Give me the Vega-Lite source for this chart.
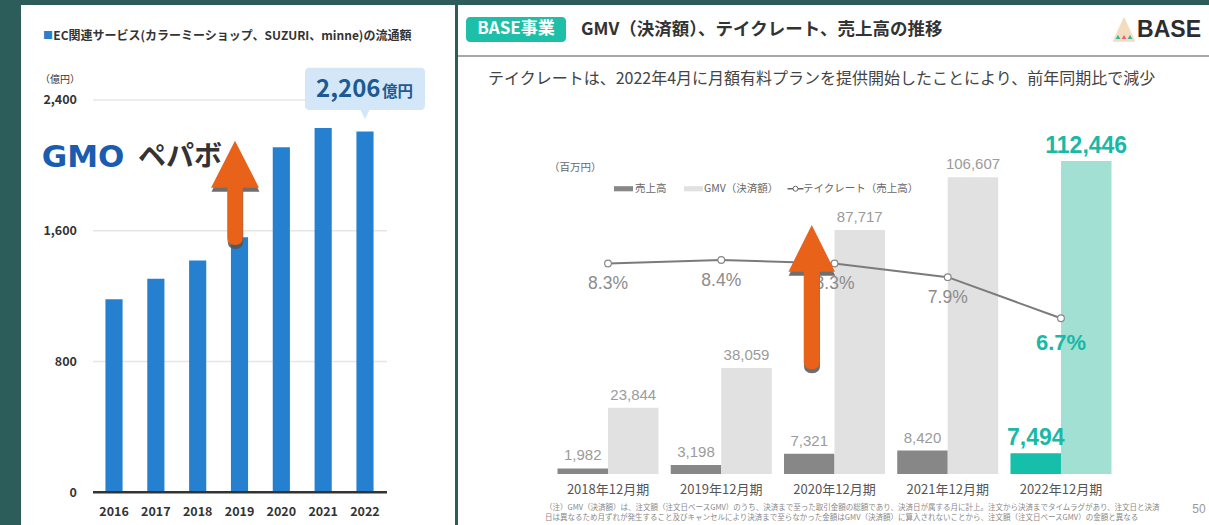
{
  "$schema": "https://vega.github.io/schema/vega-lite/v6.json",
  "background": "#2c5d5a",
  "padding": {"left": 21, "top": 5, "right": 0, "bottom": 0},
  "spacing": 2,
  "config": {"view": {"stroke": null}, "font": "Noto Sans CJK JP"},
  "datasets": {
    "pepabo": [
      {"year": "2016", "gmv": 1180},
      {"year": "2017", "gmv": 1306},
      {"year": "2018", "gmv": 1417},
      {"year": "2019", "gmv": 1560},
      {"year": "2020", "gmv": 2110},
      {"year": "2021", "gmv": 2228},
      {"year": "2022", "gmv": 2206}
    ],
    "base": [
      {"period": "2018年12月期", "series": "売上高", "value": 1982},
      {"period": "2018年12月期", "series": "GMV（決済額）", "value": 23844},
      {"period": "2019年12月期", "series": "売上高", "value": 3198},
      {"period": "2019年12月期", "series": "GMV（決済額）", "value": 38059},
      {"period": "2020年12月期", "series": "売上高", "value": 7321},
      {"period": "2020年12月期", "series": "GMV（決済額）", "value": 87717},
      {"period": "2021年12月期", "series": "売上高", "value": 8420},
      {"period": "2021年12月期", "series": "GMV（決済額）", "value": 106607},
      {"period": "2022年12月期", "series": "売上高", "value": 7494},
      {"period": "2022年12月期", "series": "GMV（決済額）", "value": 112446}
    ],
    "rate": [
      {"period": "2018年12月期", "rate": 0.083},
      {"period": "2019年12月期", "rate": 0.084},
      {"period": "2020年12月期", "rate": 0.083},
      {"period": "2021年12月期", "rate": 0.079},
      {"period": "2022年12月期", "rate": 0.067}
    ],
    "one": [{}],
    "grid": [{"v": 800}, {"v": 1600}, {"v": 2400}]
  },
  "hconcat": [
    {
      "width": 434,
      "height": 520,
      "view": {"fill": "white", "stroke": null},
      "layer": [
        {
          "data": {"name": "grid"},
          "mark": {"type": "rule", "color": "#e6e6e6", "strokeWidth": 1.5, "xOffset": -21, "x2Offset": 22},
          "encoding": {
            "x": {
              "datum": "2016", "type": "nominal",
              "scale": {"type": "band", "domain": ["2016", "2017", "2018", "2019", "2020", "2021", "2022"], "range": [72.1, 364.9], "paddingInner": 0.59, "paddingOuter": 0.295},
              "axis": {"title": null, "domain": false, "ticks": false, "grid": false, "labelPadding": 0, "offset": -19.5, "labelAngle": 0, "labelFont": "Noto Sans CJK JP", "labelFontSize": 12.5, "labelFontWeight": "bold", "labelColor": "#333"}
            },
            "x2": {"datum": "2022"},
            "y": {
              "field": "v", "type": "quantitative",
              "scale": {"domain": [0, 2400], "range": [487.3, 94.9], "nice": false, "zero": true},
              "axis": {"title": null, "values": [0, 800, 1600, 2400], "format": ",.0f", "domain": false, "ticks": false, "grid": false, "labelPadding": 0, "offset": -55.5, "labelFont": "Noto Sans CJK JP", "labelFontSize": 12.5, "labelFontWeight": "bold", "labelColor": "#333"}
            }
          }
        },
        {
          "data": {"name": "pepabo"},
          "mark": {"type": "bar", "color": "#2680d0"},
          "encoding": {
            "x": {"field": "year", "type": "nominal", "sort": null},
            "y": {"field": "gmv", "type": "quantitative"}
          }
        },
        {
          "data": {"name": "one"},
          "mark": {"type": "rule", "color": "#333", "strokeWidth": 2.5, "xOffset": -21, "x2Offset": 22},
          "encoding": {
            "x": {"datum": "2016", "type": "nominal"},
            "x2": {"datum": "2022"},
            "y": {"datum": 0, "type": "quantitative"}
          }
        },
        {
          "data": {"name": "one"},
          "mark": {"type": "bar", "color": "#d4e7f8", "width": 120, "cornerRadius": 4},
          "encoding": {
            "x": {"datum": "2022", "type": "nominal"},
            "y": {"datum": 2597, "type": "quantitative"},
            "y2": {"datum": 2338}
          }
        },
        {
          "data": {"name": "one"},
          "mark": {"type": "point", "shape": "M-1,-1L1,-1L0,1Z", "size": 100, "filled": true, "color": "#d4e7f8", "opacity": 1},
          "encoding": {
            "x": {"datum": "2022", "type": "nominal"},
            "y": {"datum": 2314, "type": "quantitative"}
          }
        },
        {
          "data": {"name": "pepabo"},
          "transform": [{"filter": "datum.year === '2022'"}],
          "mark": {"type": "text", "align": "right", "baseline": "alphabetic", "dx": 15.5, "font": "Noto Sans CJK JP", "fontSize": 24, "fontWeight": "bold", "color": "#1d5a93"},
          "encoding": {
            "x": {"field": "year", "type": "nominal"},
            "y": {"datum": 2420, "type": "quantitative"},
            "text": {"field": "gmv", "type": "quantitative", "format": ",.0f"}
          }
        },
        {
          "data": {"name": "one"},
          "mark": {"type": "text", "text": "億円", "align": "left", "baseline": "alphabetic", "dx": 17, "font": "Noto Sans CJK JP", "fontSize": 15.5, "fontWeight": "bold", "color": "#1d5a93"},
          "encoding": {
            "x": {"datum": "2022", "type": "nominal"},
            "y": {"datum": 2420, "type": "quantitative"}
          }
        },
        {
          "data": {"name": "one"},
          "mark": {"type": "text", "text": "■", "align": "center", "baseline": "middle", "dx": -66, "fontSize": 10, "color": "#2680d0"},
          "encoding": {
            "x": {"datum": "2016", "type": "nominal"},
            "y": {"datum": 2789, "type": "quantitative"}
          }
        },
        {
          "data": {"name": "one"},
          "mark": {"type": "text", "text": "EC関連サービス(カラーミーショップ、SUZURI、minne)の流通額", "align": "left", "baseline": "middle", "dx": -60.7, "font": "Noto Sans CJK JP", "fontSize": 12, "fontWeight": "bold", "color": "#333"},
          "encoding": {
            "x": {"datum": "2016", "type": "nominal"},
            "y": {"datum": 2789, "type": "quantitative"}
          }
        },
        {
          "data": {"name": "one"},
          "mark": {"type": "text", "text": "（億円）", "align": "left", "baseline": "middle", "dx": -74, "font": "Noto Sans CJK JP", "fontSize": 10, "color": "#333"},
          "encoding": {
            "x": {"datum": "2016", "type": "nominal"},
            "y": {"datum": 2522, "type": "quantitative"}
          }
        },
        {
          "data": {"name": "one"},
          "mark": {"type": "text", "text": "GMO", "align": "left", "baseline": "middle", "dx": -72.3, "font": "DejaVu Sans", "fontSize": 31, "fontWeight": "bold", "color": "#1a5cb0"},
          "encoding": {
            "x": {"datum": "2016", "type": "nominal"},
            "y": {"datum": 2045, "type": "quantitative"}
          }
        },
        {
          "data": {"name": "one"},
          "mark": {"type": "text", "text": "ペパボ", "align": "left", "baseline": "middle", "dx": 24, "font": "Noto Sans CJK JP", "fontSize": 28, "fontWeight": "bold", "color": "#333"},
          "encoding": {
            "x": {"datum": "2016", "type": "nominal"},
            "y": {"datum": 2045, "type": "quantitative"}
          }
        },
        {
          "data": {"name": "one"},
          "mark": {"type": "point", "shape": "M0,-1L0.46,-0.1L0.148,-0.1L0.148,0.86Q0.148,1 0,1Q-0.148,1 -0.148,0.86L-0.148,-0.1L-0.46,-0.1Z", "size": 10876, "filled": true, "color": "#555", "opacity": 0.85, "xOffset": -4, "yOffset": 4},
          "encoding": {
            "x": {"datum": "2019", "type": "nominal"},
            "y": {"datum": 1831.5, "type": "quantitative"}
          }
        },
        {
          "data": {"name": "one"},
          "mark": {"type": "point", "shape": "M0,-1L0.46,-0.1L0.148,-0.1L0.148,0.86Q0.148,1 0,1Q-0.148,1 -0.148,0.86L-0.148,-0.1L-0.46,-0.1Z", "size": 10876, "filled": true, "color": "#e8621a", "opacity": 1, "xOffset": -4.5},
          "encoding": {
            "x": {"datum": "2019", "type": "nominal"},
            "y": {"datum": 1831.5, "type": "quantitative"}
          }
        }
      ]
    },
    {
      "width": 752,
      "height": 520,
      "view": {"fill": "white", "stroke": null},
      "resolve": {"scale": {"y": "independent"}},
      "layer": [
        {
          "layer": [
            {
              "data": {"name": "base"},
              "mark": {"type": "bar"},
              "encoding": {
                "x": {
                  "field": "period", "type": "nominal", "sort": null,
                  "scale": {"type": "band", "range": [93.4, 659.6], "paddingInner": 0.108, "paddingOuter": 0.054},
                  "axis": {"title": null, "domain": false, "ticks": false, "grid": false, "labelPadding": 0, "offset": -41.5, "labelAngle": 0, "labelFont": "Noto Sans CJK JP", "labelFontSize": 13, "labelColor": "#555"}
                },
                "xOffset": {"field": "series", "type": "nominal", "sort": ["売上高", "GMV（決済額）"], "scale": {"domain": ["売上高", "GMV（決済額）"]}},
                "y": {
                  "field": "value", "type": "quantitative",
                  "scale": {"domain": [0, 120000], "range": [469, 135.04], "nice": false, "zero": true},
                  "axis": null
                },
                "color": {
                  "condition": [
                    {"test": "datum.period === '2022年12月期' && datum.series === '売上高'", "value": "#16bfa9"},
                    {"test": "datum.period === '2022年12月期'", "value": "#a2e0d4"},
                    {"test": "datum.series === '売上高'", "value": "#878787"}
                  ],
                  "value": "#e1e1e1"
                }
              }
            },
            {
              "data": {"name": "base"},
              "transform": [{"filter": "datum.period !== '2022年12月期'"}],
              "mark": {"type": "text", "align": "center", "baseline": "alphabetic", "dy": -8, "font": "Liberation Sans", "fontSize": 15, "color": "#9b9b9b"},
              "encoding": {
                "x": {"field": "period", "type": "nominal", "sort": null},
                "xOffset": {"field": "series", "type": "nominal", "sort": ["売上高", "GMV（決済額）"]},
                "y": {"field": "value", "type": "quantitative"},
                "text": {"field": "value", "type": "quantitative", "format": ",.0f"}
              }
            },
            {
              "data": {"name": "base"},
              "transform": [{"filter": "datum.period === '2022年12月期'"}],
              "mark": {"type": "text", "align": "center", "baseline": "alphabetic", "dy": -8, "font": "Liberation Sans", "fontSize": 23, "fontWeight": "bold", "color": "#19b9a6"},
              "encoding": {
                "x": {"field": "period", "type": "nominal", "sort": null},
                "xOffset": {"field": "series", "type": "nominal", "sort": ["売上高", "GMV（決済額）"]},
                "y": {"field": "value", "type": "quantitative"},
                "text": {"field": "value", "type": "quantitative", "format": ",.0f"}
              }
            },
            {
              "data": {"name": "one"},
              "mark": {"type": "bar", "color": "#1dbfa9", "width": 100, "cornerRadius": 4, "xOffset": -92},
              "encoding": {
                "x": {"datum": "2018年12月期", "type": "nominal"},
                "y": {"datum": 164211, "type": "quantitative"},
                "y2": {"datum": 155228}
              }
            },
            {
              "data": {"name": "one"},
              "mark": {"type": "text", "text": "BASE事業", "align": "center", "baseline": "middle", "dx": -92, "font": "Noto Sans CJK JP", "fontSize": 17, "fontWeight": "bold", "color": "white"},
              "encoding": {
                "x": {"datum": "2018年12月期", "type": "nominal"},
                "y": {"datum": 159720, "type": "quantitative"}
              }
            },
            {
              "data": {"name": "one"},
              "mark": {"type": "text", "text": "GMV（決済額）、テイクレート、売上高の推移", "align": "left", "baseline": "middle", "dx": -27, "font": "Noto Sans CJK JP", "fontSize": 17.5, "fontWeight": "bold", "color": "#333"},
              "encoding": {
                "x": {"datum": "2018年12月期", "type": "nominal"},
                "y": {"datum": 159540, "type": "quantitative"}
              }
            },
            {
              "data": {"name": "one"},
              "mark": {"type": "point", "shape": "M0,-1L0.92,1L-0.92,1Z", "size": 625, "filled": true, "color": "#f4dcc0", "opacity": 1, "xOffset": 63},
              "encoding": {
                "x": {"datum": "2022年12月期", "type": "nominal"},
                "y": {"datum": 159828, "type": "quantitative"}
              }
            },
            {
              "data": {"name": "one"},
              "mark": {"type": "point", "shape": "triangle-up", "size": 22, "filled": true, "color": "#2bb5a0", "opacity": 1, "xOffset": 57},
              "encoding": {
                "x": {"datum": "2022年12月期", "type": "nominal"},
                "y": {"datum": 157025, "type": "quantitative"}
              }
            },
            {
              "data": {"name": "one"},
              "mark": {"type": "point", "shape": "triangle-up", "size": 22, "filled": true, "color": "#e8607a", "opacity": 1, "xOffset": 63},
              "encoding": {
                "x": {"datum": "2022年12月期", "type": "nominal"},
                "y": {"datum": 157025, "type": "quantitative"}
              }
            },
            {
              "data": {"name": "one"},
              "mark": {"type": "point", "shape": "triangle-up", "size": 22, "filled": true, "color": "#2bb5a0", "opacity": 1, "xOffset": 69},
              "encoding": {
                "x": {"datum": "2022年12月期", "type": "nominal"},
                "y": {"datum": 157025, "type": "quantitative"}
              }
            },
            {
              "data": {"name": "one"},
              "mark": {"type": "text", "text": "BASE", "align": "right", "baseline": "middle", "dx": 140, "font": "Liberation Sans", "fontSize": 23, "fontWeight": "bold", "color": "#2d2d2d"},
              "encoding": {
                "x": {"datum": "2022年12月期", "type": "nominal"},
                "y": {"datum": 159540, "type": "quantitative"}
              }
            },
            {
              "data": {"name": "one"},
              "mark": {"type": "rule", "color": "#a8a8a8", "strokeWidth": 2},
              "encoding": {
                "y": {"datum": 150198, "type": "quantitative"}
              }
            },
            {
              "data": {"name": "one"},
              "mark": {"type": "text", "text": "テイクレートは、2022年4月に月額有料プランを提供開始したことにより、前年同期比で減少", "align": "left", "baseline": "middle", "dx": -120, "font": "Noto Sans CJK JP", "fontSize": 16, "color": "#444"},
              "encoding": {
                "x": {"datum": "2018年12月期", "type": "nominal"},
                "y": {"datum": 141933, "type": "quantitative"}
              }
            },
            {
              "data": {"name": "one"},
              "mark": {"type": "text", "text": "（百万円）", "align": "left", "baseline": "middle", "dx": -59, "font": "Noto Sans CJK JP", "fontSize": 10.5, "color": "#666"},
              "encoding": {
                "x": {"datum": "2018年12月期", "type": "nominal"},
                "y": {"datum": 109953, "type": "quantitative"}
              }
            },
            {
              "data": {"name": "one"},
              "mark": {"type": "point", "shape": "M-1,-0.27L1,-0.27L1,0.27L-1,0.27Z", "size": 361, "filled": true, "color": "#878787", "opacity": 1, "xOffset": 15.5},
              "encoding": {
                "x": {"datum": "2018年12月期", "type": "nominal"},
                "y": {"datum": 102500, "type": "quantitative"}
              }
            },
            {
              "data": {"name": "one"},
              "mark": {"type": "text", "text": "売上高", "align": "left", "baseline": "middle", "dx": 27, "font": "Noto Sans CJK JP", "fontSize": 10.5, "color": "#666"},
              "encoding": {
                "x": {"datum": "2018年12月期", "type": "nominal"},
                "y": {"datum": 102500, "type": "quantitative"}
              }
            },
            {
              "data": {"name": "one"},
              "mark": {"type": "point", "shape": "M-1,-0.27L1,-0.27L1,0.27L-1,0.27Z", "size": 361, "filled": true, "color": "#e1e1e1", "opacity": 1, "xOffset": 85.5},
              "encoding": {
                "x": {"datum": "2018年12月期", "type": "nominal"},
                "y": {"datum": 102500, "type": "quantitative"}
              }
            },
            {
              "data": {"name": "one"},
              "mark": {"type": "text", "text": "GMV（決済額）", "align": "left", "baseline": "middle", "dx": 96, "font": "Noto Sans CJK JP", "fontSize": 10.5, "color": "#666"},
              "encoding": {
                "x": {"datum": "2018年12月期", "type": "nominal"},
                "y": {"datum": 102500, "type": "quantitative"}
              }
            },
            {
              "data": {"name": "one"},
              "mark": {"type": "point", "shape": "M-1,0L1,0", "size": 256, "filled": false, "stroke": "#666", "strokeWidth": 1.5, "opacity": 1, "xOffset": 187.5},
              "encoding": {
                "x": {"datum": "2018年12月期", "type": "nominal"},
                "y": {"datum": 102500, "type": "quantitative"}
              }
            },
            {
              "data": {"name": "one"},
              "mark": {"type": "point", "shape": "circle", "size": 25, "filled": true, "fill": "white", "stroke": "#666", "strokeWidth": 1, "opacity": 1, "xOffset": 187.5},
              "encoding": {
                "x": {"datum": "2018年12月期", "type": "nominal"},
                "y": {"datum": 102500, "type": "quantitative"}
              }
            },
            {
              "data": {"name": "one"},
              "mark": {"type": "text", "text": "テイクレート（売上高）", "align": "left", "baseline": "middle", "dx": 195, "font": "Noto Sans CJK JP", "fontSize": 10.5, "color": "#666"},
              "encoding": {
                "x": {"datum": "2018年12月期", "type": "nominal"},
                "y": {"datum": 102500, "type": "quantitative"}
              }
            },
            {
              "data": {"name": "one"},
              "mark": {"type": "text", "text": "（注）GMV（決済額）は、注文額（注文日ベースGMV）のうち、決済まで至った取引金額の総額であり、決済日が属する月に計上。注文から決済までタイムラグがあり、注文日と決済", "align": "left", "baseline": "middle", "dx": -63, "font": "Noto Sans CJK JP", "fontSize": 7.5, "color": "#888"},
              "encoding": {
                "x": {"datum": "2018年12月期", "type": "nominal"},
                "y": {"datum": -12217, "type": "quantitative"}
              }
            },
            {
              "data": {"name": "one"},
              "mark": {"type": "text", "text": "日は異なるため月ずれが発生すること及びキャンセルにより決済まで至らなかった金額はGMV（決済額）に算入されないことから、注文額（注文日ベースGMV）の金額と異なる", "align": "left", "baseline": "middle", "dx": -63, "font": "Noto Sans CJK JP", "fontSize": 7.5, "color": "#888"},
              "encoding": {
                "x": {"datum": "2018年12月期", "type": "nominal"},
                "y": {"datum": -15810, "type": "quantitative"}
              }
            },
            {
              "data": {"name": "one"},
              "mark": {"type": "text", "text": "50", "align": "center", "baseline": "middle", "dx": 138, "font": "Liberation Sans", "fontSize": 12, "color": "#999"},
              "encoding": {
                "x": {"datum": "2022年12月期", "type": "nominal"},
                "y": {"datum": -12576, "type": "quantitative"}
              }
            }
          ]
        },
        {
          "layer": [
            {
              "data": {"name": "rate"},
              "mark": {"type": "line", "color": "#7b7b7b", "strokeWidth": 2},
              "encoding": {
                "x": {"field": "period", "type": "nominal", "sort": null},
                "y": {"field": "rate", "type": "quantitative", "scale": {"domain": [0.067, 0.084], "range": [313.3, 255], "nice": false, "zero": false}, "axis": null}
              }
            },
            {
              "data": {"name": "rate"},
              "mark": {"type": "point", "shape": "circle", "size": 45, "filled": true, "fill": "white", "stroke": "#888", "strokeWidth": 1.2, "opacity": 1},
              "encoding": {
                "x": {"field": "period", "type": "nominal", "sort": null},
                "y": {"field": "rate", "type": "quantitative"}
              }
            },
            {
              "data": {"name": "rate"},
              "transform": [{"filter": "datum.period !== '2022年12月期'"}],
              "mark": {"type": "text", "align": "center", "baseline": "alphabetic", "dy": 26, "font": "Liberation Sans", "fontSize": 17.5, "color": "#8c8c8c"},
              "encoding": {
                "x": {"field": "period", "type": "nominal", "sort": null},
                "y": {"field": "rate", "type": "quantitative"},
                "text": {"field": "rate", "type": "quantitative", "format": ".1%"}
              }
            },
            {
              "data": {"name": "rate"},
              "transform": [{"filter": "datum.period === '2022年12月期'"}],
              "mark": {"type": "text", "align": "center", "baseline": "alphabetic", "dy": 32, "font": "Liberation Sans", "fontSize": 22, "fontWeight": "bold", "color": "#19b9a6"},
              "encoding": {
                "x": {"field": "period", "type": "nominal", "sort": null},
                "y": {"field": "rate", "type": "quantitative"},
                "text": {"field": "rate", "type": "quantitative", "format": ".1%"}
              }
            },
            {
              "data": {"name": "one"},
              "mark": {"type": "point", "shape": "M0,-1L0.323,-0.353L0.111,-0.353L0.111,0.9Q0.111,1 0,1Q-0.111,1 -0.111,0.9L-0.111,-0.353L-0.323,-0.353Z", "size": 20822, "filled": true, "color": "#555", "opacity": 0.85, "xOffset": -22.5, "yOffset": 4},
              "encoding": {
                "x": {"datum": "2020年12月期", "type": "nominal"},
                "y": {"datum": 0.073166, "type": "quantitative"}
              }
            },
            {
              "data": {"name": "one"},
              "mark": {"type": "point", "shape": "M0,-1L0.323,-0.353L0.111,-0.353L0.111,0.9Q0.111,1 0,1Q-0.111,1 -0.111,0.9L-0.111,-0.353L-0.323,-0.353Z", "size": 20822, "filled": true, "color": "#e8621a", "opacity": 1, "xOffset": -22.75},
              "encoding": {
                "x": {"datum": "2020年12月期", "type": "nominal"},
                "y": {"datum": 0.073166, "type": "quantitative"}
              }
            }
          ]
        }
      ]
    }
  ]
}
